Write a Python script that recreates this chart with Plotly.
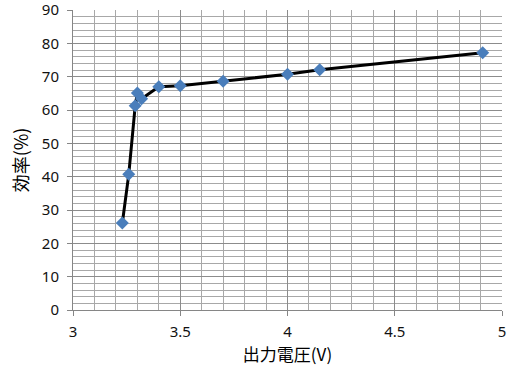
import plotly.graph_objects as go

voltage = [3.23, 3.26, 3.29, 3.30, 3.32, 3.40, 3.50, 3.70, 4.00, 4.15, 4.91]
efficiency = [26.1, 40.7, 61.3, 65.1, 63.4, 67.0, 67.3, 68.6, 70.7, 72.1, 77.2]

x_title = "出力電圧(V)"
y_title = "効率(%)"

font_family = "Noto Sans CJK JP, Noto Sans, sans-serif"
num_family = "Noto Sans, DejaVu Sans, sans-serif"

fig = go.Figure()
fig.add_trace(go.Scatter(
    x=voltage, y=efficiency, mode="lines+markers",
    line=dict(color="black", width=3),
    marker=dict(symbol="diamond", size=10, color="#4a7ebb"),
    showlegend=False,
    cliponaxis=False,
))

fig.update_layout(
    width=515, height=366,
    margin=dict(l=73, r=13, t=10, b=56),
    paper_bgcolor="white", plot_bgcolor="white",
    font=dict(family=font_family, size=15, color="#111"),
    xaxis=dict(
        range=[3, 5], dtick=0.5, tick0=3,
        automargin=False,
        showgrid=True, gridcolor="#8c8c8c", gridwidth=1,
        minor=dict(dtick=0.1, showgrid=True, gridcolor="#a8a8a8", gridwidth=1),
        showline=True, linecolor="#868686", linewidth=1,
        ticks="outside", ticklen=5, tickcolor="#868686",
        zeroline=False,
        title=dict(text=x_title, font=dict(size=17, color="#000"), standoff=4),
        tickfont=dict(family=num_family, size=15, color="#111"),
        ticklabeloverflow="allow",
        ticklabelstandoff=3,
    ),
    yaxis=dict(
        range=[0, 90], dtick=10, tick0=0,
        automargin=False,
        showgrid=True, gridcolor="#8c8c8c", gridwidth=1,
        minor=dict(dtick=2, showgrid=True, gridcolor="#a8a8a8", gridwidth=1),
        showline=True, linecolor="#868686", linewidth=1,
        ticks="outside", ticklen=5, tickcolor="#868686",
        zeroline=False,
        title=dict(text=y_title, font=dict(size=18, color="#000"), standoff=8),
        tickfont=dict(family=num_family, size=15, color="#111"),
        ticklabeloverflow="allow",
        ticklabelstandoff=5,
    ),
)

fig.write_html(
    "out.html",
    config={"displayModeBar": False},
    post_script="document.body.style.margin='0';document.body.style.padding='0';",
)
